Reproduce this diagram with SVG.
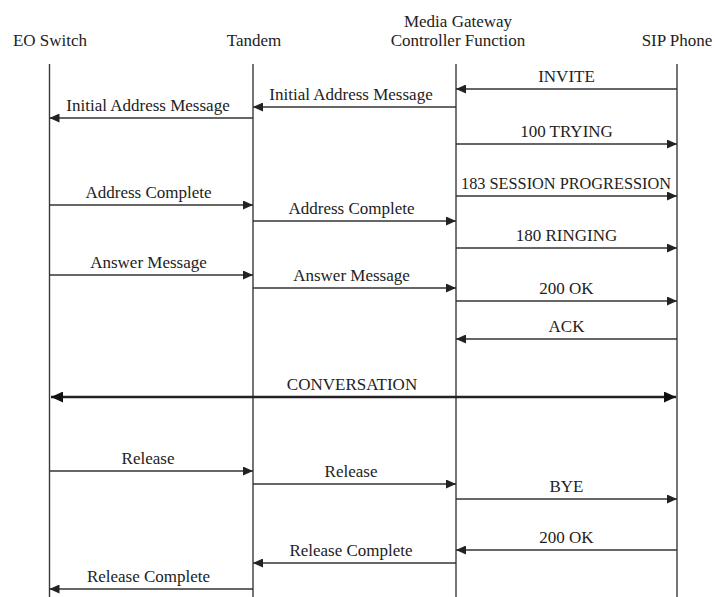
<svg xmlns="http://www.w3.org/2000/svg" width="715" height="597" viewBox="0 0 715 597">
  <style>
    .t { font-family: "Liberation Serif", "Times New Roman", serif; font-size: 17px; fill: #222; text-anchor: middle; }
    .life { stroke: #3a3a3a; stroke-width: 1.4; fill: none; }
    .msg { stroke: #333; stroke-width: 1.4; fill: none; marker-end: url(#head); }
    .conv { stroke: #222; stroke-width: 2.6; fill: none; marker-end: url(#bighead); marker-start: url(#bighead); }
  </style>
  <defs>
    <marker id="head" markerUnits="userSpaceOnUse" markerWidth="10" markerHeight="9" refX="10" refY="4.5" orient="auto">
      <path d="M0,0 L10,4.5 L0,9 z" fill="#222"/>
    </marker>
    <marker id="bighead" markerUnits="userSpaceOnUse" markerWidth="12" markerHeight="11" refX="12" refY="5.5" orient="auto-start-reverse">
      <path d="M0,0 L12,5.5 L0,11 z" fill="#111"/>
    </marker>
  </defs>
  <rect width="715" height="597" fill="#fff"/>

  <!-- participants with their lifelines -->
  <g id="eo-switch">
    <text class="t" x="50" y="46">EO Switch</text>
    <line class="life" x1="49.5" y1="64" x2="49.5" y2="597"/>
  </g>
  <g id="tandem">
    <text class="t" x="254" y="46">Tandem</text>
    <line class="life" x1="253" y1="64" x2="253" y2="597"/>
  </g>
  <g id="mgcf">
    <text class="t" x="458" y="27">Media Gateway</text>
    <text class="t" x="458" y="46">Controller Function</text>
    <line class="life" x1="456" y1="64" x2="456" y2="597"/>
  </g>
  <g id="sip-phone">
    <text class="t" x="677" y="46">SIP Phone</text>
    <line class="life" x1="677" y1="64" x2="677" y2="597"/>
  </g>

  <!-- messages -->
  <g id="connectors">
    <line class="msg" x1="677" y1="89" x2="456" y2="89"/>
    <line class="msg" x1="456" y1="107" x2="253" y2="107"/>
    <line class="msg" x1="253" y1="118" x2="49.5" y2="118"/>
    <line class="msg" x1="456" y1="144" x2="677" y2="144"/>
    <line class="msg" x1="456" y1="196" x2="677" y2="196"/>
    <line class="msg" x1="49.5" y1="205" x2="253" y2="205"/>
    <line class="msg" x1="253" y1="221" x2="456" y2="221"/>
    <line class="msg" x1="456" y1="248" x2="677" y2="248"/>
    <line class="msg" x1="49.5" y1="275" x2="253" y2="275"/>
    <line class="msg" x1="253" y1="288" x2="456" y2="288"/>
    <line class="msg" x1="456" y1="301" x2="677" y2="301"/>
    <line class="msg" x1="677" y1="339" x2="456" y2="339"/>
    <line class="conv" x1="51" y1="397" x2="676" y2="397"/>
    <line class="msg" x1="49.5" y1="471" x2="253" y2="471"/>
    <line class="msg" x1="253" y1="484" x2="456" y2="484"/>
    <line class="msg" x1="456" y1="499" x2="677" y2="499"/>
    <line class="msg" x1="677" y1="550" x2="456" y2="550"/>
    <line class="msg" x1="456" y1="563" x2="253" y2="563"/>
    <line class="msg" x1="253" y1="589" x2="49.5" y2="589"/>

    <text class="t" x="566.5" y="82">INVITE</text>
    <text class="t" x="351" y="100">Initial Address Message</text>
    <text class="t" x="148" y="111">Initial Address Message</text>
    <text class="t" x="566.5" y="137">100 TRYING</text>
    <text class="t" x="566" y="189" textLength="210" lengthAdjust="spacingAndGlyphs">183 SESSION PROGRESSION</text>
    <text class="t" x="148.5" y="198">Address Complete</text>
    <text class="t" x="351.5" y="214">Address Complete</text>
    <text class="t" x="566.5" y="241">180 RINGING</text>
    <text class="t" x="148.5" y="268">Answer Message</text>
    <text class="t" x="351.5" y="281">Answer Message</text>
    <text class="t" x="566.5" y="294">200 OK</text>
    <text class="t" x="566.5" y="332">ACK</text>
    <text class="t" x="352" y="390">CONVERSATION</text>
    <text class="t" x="148" y="464">Release</text>
    <text class="t" x="351" y="477">Release</text>
    <text class="t" x="566.5" y="492">BYE</text>
    <text class="t" x="566.5" y="543">200 OK</text>
    <text class="t" x="351" y="556">Release Complete</text>
    <text class="t" x="148.5" y="582">Release Complete</text>
  </g>
</svg>
